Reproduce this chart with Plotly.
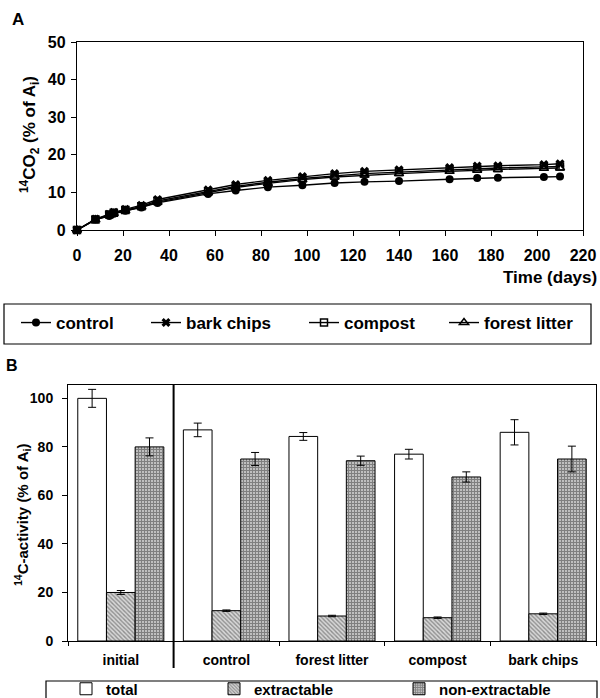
import plotly.graph_objects as go

# ---------------- Panel A data ----------------
days = [0, 8, 14, 16, 21, 28, 35, 57, 69, 83, 98, 112, 125, 140, 162, 174, 183, 203, 210]
co2_control = [0, 2.8, 3.7, 4.3, 5.1, 6.0, 7.2, 9.6, 10.5, 11.4, 11.9, 12.5, 12.8, 13.0, 13.5, 13.8, 13.9, 14.1, 14.2]
co2_bark = [0, 2.9, 4.2, 4.7, 5.5, 6.6, 8.1, 10.7, 12.1, 13.2, 14.2, 15.0, 15.6, 16.0, 16.6, 17.0, 17.1, 17.4, 17.6]
co2_compost = [0, 2.8, 4.1, 4.6, 5.3, 6.3, 7.7, 10.2, 11.6, 12.7, 13.7, 14.4, 15.0, 15.4, 16.0, 16.3, 16.5, 16.8, 16.9]
co2_forest = [0, 2.7, 3.9, 4.4, 5.1, 6.1, 7.4, 10.0, 11.3, 12.4, 13.4, 14.1, 14.6, 15.0, 15.6, 15.9, 16.1, 16.4, 16.5]
x_ticks_a = [0, 20, 40, 60, 80, 100, 120, 140, 160, 180, 200, 220]
y_ticks_a = [0, 10, 20, 30, 40, 50]

# ---------------- Panel B data ----------------
categories = ["initial", "control", "forest litter", "compost", "bark chips"]
total = [100, 87, 84.3, 77, 86]
total_err = [3.7, 2.8, 1.6, 2.0, 5.2]
extractable = [20, 12.5, 10.3, 9.6, 11.2]
extractable_err = [0.8, 0.3, 0.3, 0.3, 0.3]
nonextractable = [80, 75, 74.3, 67.6, 75]
nonextractable_err = [3.7, 2.7, 1.9, 2.1, 5.3]
y_ticks_b = [0, 20, 40, 60, 80, 100]

W, H = 600, 698
FONT = "Liberation Sans"


def px(v):
    return v / W


def py(v):
    return 1 - v / H


fig = go.Figure()

series_a = [
    ("control", co2_control, dict(symbol="circle", size=8, color="black"), "legend"),
    ("bark chips", co2_bark, dict(symbol="x", size=8, color="black"), "legend2"),
    ("compost", co2_compost, dict(symbol="square-open", size=7, color="black", line=dict(width=1.5, color="black")), "legend3"),
    ("forest litter", co2_forest, dict(symbol="triangle-up-open", size=8, color="black", line=dict(width=1.5, color="black")), "legend4"),
]
for name, vals, mk, lg in series_a:
    fig.add_trace(go.Scatter(
        x=days, y=vals, name=name, mode="lines+markers",
        line=dict(color="black", width=1.4), marker=mk,
        xaxis="x", yaxis="y", legend=lg, cliponaxis=False,
    ))

bar_specs = [
    ("total", total, total_err, dict(color="white", line=dict(color="black", width=1)), "legend5"),
    ("extractable", extractable, extractable_err,
     dict(color="white", line=dict(color="black", width=1),
          pattern=dict(shape="\\", fgcolor="#444444", bgcolor="#d8d8d8", size=3, solidity=0.45)), "legend6"),
    ("non-extractable", nonextractable, nonextractable_err,
     dict(color="white", line=dict(color="black", width=1),
          pattern=dict(shape="+", fgcolor="#000000", bgcolor="white", size=3, solidity=0.8)), "legend7"),
]
for name, vals, errs, mk, lg in bar_specs:
    fig.add_trace(go.Bar(
        x=categories, y=vals, name=name, marker=mk,
        error_y=dict(type="data", array=errs, visible=True, color="black", thickness=1, width=4),
        xaxis="x2", yaxis="y2", legend=lg,
    ))

tickfont_a = dict(family=FONT, size=16, color="black", weight="bold")
tickfont_b = dict(family=FONT, size=14, color="black", weight="bold")

layout = dict(
    width=W, height=H,
    margin=dict(l=0, r=0, t=0, b=0, autoexpand=False),
    paper_bgcolor="white", plot_bgcolor="white",
    barmode="group", bargap=0.185, bargroupgap=0,
    showlegend=True,
    xaxis=dict(domain=[px(77), px(583)], range=[0, 220], tickvals=x_ticks_a,
               ticks="outside", ticklen=5, tickwidth=1, tickcolor="black",
               showline=True, linecolor="black", linewidth=1.3, mirror=True,
               showgrid=False, zeroline=False, anchor="y", tickfont=tickfont_a,
               ticklabelstandoff=6, automargin=False),
    yaxis=dict(domain=[py(230), py(42)], range=[0, 50], tickvals=y_ticks_a,
               ticks="outside", ticklen=5, tickwidth=1, tickcolor="black",
               showline=True, linecolor="black", linewidth=1.3, mirror=True,
               showgrid=False, zeroline=False, anchor="x", tickfont=tickfont_a,
               ticklabelstandoff=2, automargin=False),
    xaxis3=dict(overlaying="x", anchor="y", range=[0, 220], tickvals=x_ticks_a,
                ticks="inside", ticklen=5, tickwidth=1, tickcolor="black",
                showticklabels=False, showline=False, showgrid=False, zeroline=False),
    yaxis3=dict(overlaying="y", anchor="x", side="left", range=[0, 50], tickvals=y_ticks_a,
                ticks="inside", ticklen=5, tickwidth=1, tickcolor="black",
                showticklabels=False, showline=False, showgrid=False, zeroline=False),
    xaxis2=dict(domain=[px(68), px(596)], anchor="y2", type="category",
                ticks="outside", tickson="boundaries", ticklen=4, tickcolor="black",
                showline=True, linecolor="black", linewidth=1, mirror=True,
                showgrid=False, zeroline=False, tickfont=tickfont_b, ticklabelstandoff=6,
                automargin=False),
    yaxis2=dict(domain=[py(641), py(385)], anchor="x2", range=[0, 105.5], tickvals=y_ticks_b,
                ticks="outside", ticklen=5, tickcolor="black",
                showline=True, linecolor="black", linewidth=1, mirror=True,
                showgrid=False, zeroline=False, tickfont=tickfont_b, ticklabelstandoff=6,
                automargin=False),
)

legend_font_a = dict(family=FONT, size=17, color="black", weight="bold")
legend_font_b = dict(family=FONT, size=15, color="black", weight="bold")
legend_pos = {
    "legend": (16, 323, legend_font_a),
    "legend2": (146, 323, legend_font_a),
    "legend3": (304, 323, legend_font_a),
    "legend4": (444, 323, legend_font_a),
    "legend5": (66, 689, legend_font_b),
    "legend6": (214, 689, legend_font_b),
    "legend7": (399, 689, legend_font_b),
}
for key, (lx, ly, f) in legend_pos.items():
    layout[key] = dict(x=px(lx), y=py(ly), xanchor="left", yanchor="middle",
                       xref="paper", yref="paper", bgcolor="rgba(0,0,0,0)",
                       borderwidth=0, font=f, orientation="h")

layout["shapes"] = [
    # legend boxes
    dict(type="rect", xref="paper", yref="paper", x0=px(4), x1=px(591), y0=py(344), y1=py(304),
         line=dict(color="black", width=1.2), fillcolor="rgba(0,0,0,0)"),
    dict(type="rect", xref="paper", yref="paper", x0=px(46), x1=px(597), y0=py(703), y1=py(681),
         line=dict(color="black", width=1.2), fillcolor="rgba(0,0,0,0)"),
    # separator between initial and treatments
    dict(type="line", xref="x2", yref="paper", x0=0.5, x1=0.5, y0=py(668), y1=py(385),
         line=dict(color="black", width=2)),
]

ann_common = dict(xref="paper", yref="paper", showarrow=False, xanchor="center", yanchor="middle")
layout["annotations"] = [
    dict(text="<b>A</b>", x=px(18), y=py(19), font=dict(family=FONT, size=17, color="black"), **ann_common),
    dict(text="<b>B</b>", x=px(12), y=py(366), font=dict(family=FONT, size=16, color="black"), **ann_common),
    dict(text="<b>Time (days)</b>", x=px(550), y=py(277), font=dict(family=FONT, size=17, color="black"), **ann_common),
    dict(text="<b><sup>14</sup>CO<sub>2</sub> (% of A<sub>i</sub>)</b>", x=px(30), y=py(135), textangle=-90,
         font=dict(family=FONT, size=17, color="black"), **ann_common),
    dict(text="<b><sup>14</sup>C-activity (% of A<sub>i</sub>)</b>", x=px(22), y=py(515), textangle=-90,
         font=dict(family=FONT, size=15, color="black"), **ann_common),
]

fig.update_layout(**layout)
fig.write_html(
    "out.html",
    config={"displayModeBar": False},
    post_script="document.body.style.margin='0';document.body.style.overflow='hidden';",
)
